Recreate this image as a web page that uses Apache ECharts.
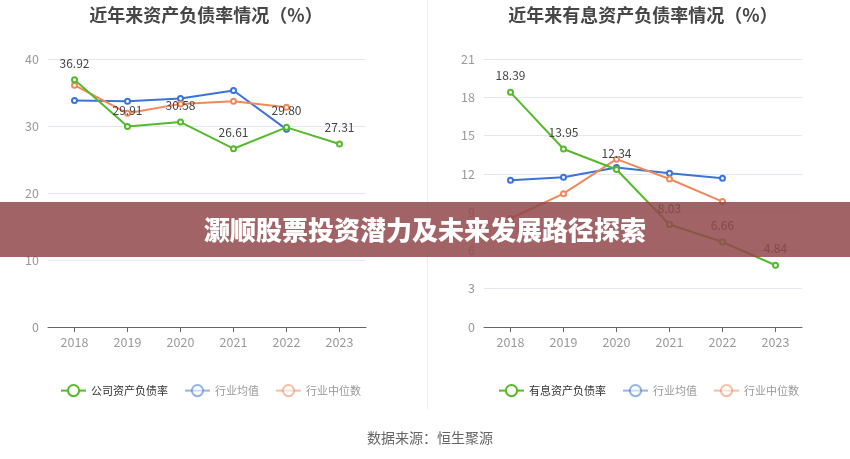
<!DOCTYPE html>
<html><head><meta charset="utf-8">
<script src="https://cdn.jsdelivr.net/npm/echarts@6/dist/echarts.min.js"></script>
<style>html,body{margin:0;padding:0;background:#fff}#c{width:850px;height:459px}</style>
</head><body><div id="c"></div>
<script>
var years = ['2018','2019','2020','2021','2022','2023'];
var companyDebt = [36.92, 29.91, 30.58, 26.61, 29.80, 27.31];
var industryAvgDebt = [33.8, 33.7, 34.1, 35.3, 29.5, null];
var industryMedDebt = [36.1, 31.9, 33.3, 33.7, 32.8, null];
var companyIntDebt = [18.39, 13.95, 12.34, 8.03, 6.66, 4.84];
var industryAvgInt = [11.5, 11.74, 12.5, 12.05, 11.66, null];
var industryMedInt = [8.5, 10.45, 13.15, 11.6, 9.83, null];
var leftTicks = {min:0, max:40, interval:10};
var rightTicks = {min:0, max:21, interval:3};

var GREEN='#56b92c', BLUE='#3a74d6', ORANGE='#f0885b';
var FONT='"Noto Sans CJK SC", sans-serif';
function line(name, data, color, xi, labels){
  return {name:name, type:'line', xAxisIndex:xi, yAxisIndex:xi, data:data,
    symbol:'emptyCircle', symbolSize:5, connectNulls:false,
    lineStyle:{width:2, color:color}, itemStyle:{color:color, borderWidth:1.5},
    label:{show:!!labels, position:'top', color:'#444', fontSize:12, fontFamily:FONT, distance:7,
      formatter:function(p){return p.value.toFixed(2);}},
    z: labels?3:2};
}
function xAx(gi){return {type:'category', gridIndex:gi, data:years, boundaryGap:true,
  axisLine:{lineStyle:{color:'#666'}}, axisTick:{show:true, alignWithLabel:true, lineStyle:{color:'#666'}},
  axisLabel:{color:'#999', fontSize:12.5, fontFamily:FONT, margin:9}};}
function yAx(gi,t){return {type:'value', gridIndex:gi, min:t.min, max:t.max, interval:t.interval,
  axisLine:{show:false}, axisTick:{show:false},
  axisLabel:{color:'#999', fontSize:12.5, fontFamily:FONT, margin:9},
  splitLine:{lineStyle:{color:'#e3e8f0'}}};}
function legend(left, first){
  return {left:left, top:379, itemWidth:25, itemHeight:14, itemGap:16,
    textStyle:{fontSize:11, fontFamily:FONT, color:'#999'},
    data:[{name:first, textStyle:{color:'#333'}},
      {name:'行业均值', itemStyle:{opacity:0.55}, lineStyle:{opacity:0.55}},
      {name:'行业中位数', itemStyle:{opacity:0.55}, lineStyle:{opacity:0.55}}]};
}
var chart = echarts.init(document.getElementById('c'), null, {renderer:'canvas'});
chart.setOption({
  animation:false,
  title:[
    {text:'近年来资产负债率情况（%）', left:201, top:1, textAlign:'center',
      textStyle:{fontSize:18, fontWeight:'bold', color:'#464646', fontFamily:FONT}},
    {text:'近年来有息资产负债率情况（%）', left:638, top:1, textAlign:'center',
      textStyle:{fontSize:18, fontWeight:'bold', color:'#464646', fontFamily:FONT}},
    {text:'数据来源：恒生聚源', left:425, top:426, textAlign:'center',
      textStyle:{fontSize:14, fontWeight:'normal', color:'#666', fontFamily:FONT}}
  ],
  legend:[legend(55,'公司资产负债率'), legend(493,'有息资产负债率')],
  grid:[{left:48, right:484, top:59, bottom:132}, {left:484, right:48, top:59, bottom:132}],
  xAxis:[xAx(0), xAx(1)],
  yAxis:[yAx(0,leftTicks), yAx(1,rightTicks)],
  series:[
    line('公司资产负债率', companyDebt, GREEN, 0, true),
    line('行业均值', industryAvgDebt, BLUE, 0, false),
    line('行业中位数', industryMedDebt, ORANGE, 0, false),
    line('有息资产负债率', companyIntDebt, GREEN, 1, true),
    line('行业均值', industryAvgInt, BLUE, 1, false),
    line('行业中位数', industryMedInt, ORANGE, 1, false)
  ],
  graphic:[
    {type:'line', shape:{x1:427.5, y1:0, x2:427.5, y2:410}, style:{stroke:'#eee', lineWidth:1}, z:1},
    {type:'rect', shape:{x:0, y:202, width:850, height:55}, style:{fill:'rgba(145,72,74,0.85)'}, z:100},
    {type:'text', x:425, y:230, z:101, style:{text:'灏顺股票投资潜力及未来发展路径探索', fill:'#fff',
      font:'900 26px "Noto Sans CJK SC", sans-serif', textAlign:'center', textVerticalAlign:'middle'}}
  ]
});
</script></body></html>
